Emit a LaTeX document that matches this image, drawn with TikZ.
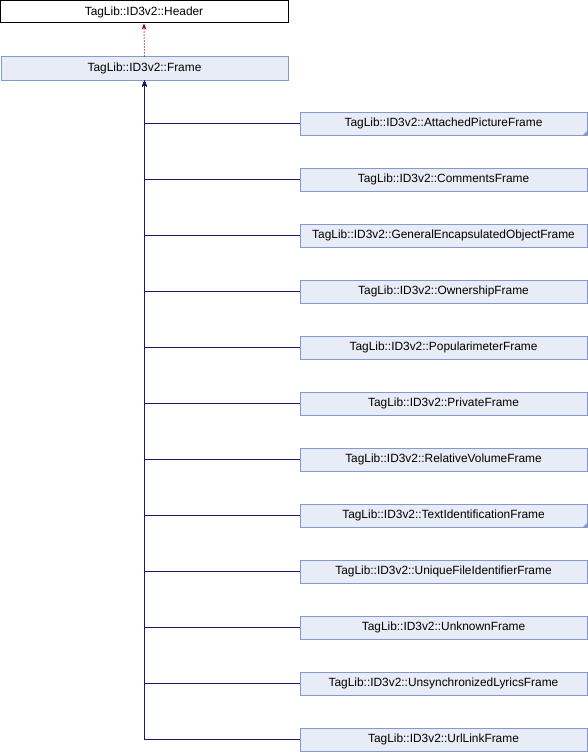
\documentclass[tikz,border=0pt]{standalone}
\usepackage{fontspec}
\setmainfont{Liberation Sans}
\usepackage{xcolor}
\usetikzlibrary{positioning, arrows.meta}

\definecolor{boxfill}{HTML}{E8ECF6}
\definecolor{boxline}{HTML}{8499CC}
\definecolor{inhline}{HTML}{191970}
\definecolor{deprline}{HTML}{8B0000}

\tikzset{
    cls/.style={draw=boxline, fill=boxfill, line width=1pt, minimum width=287, minimum height=23, inner sep=0pt, font=\fontsize{11.9}{14}\selectfont},
    top/.style={draw=black, fill=white, line width=1pt, minimum width=288, minimum height=22, inner sep=0pt, font=\fontsize{11.9}{14}\selectfont},
    inh/.style={draw=inhline, line width=1pt, -{Stealth[length=6pt, width=4.5pt]}},
    usage/.style={draw=deprline, line width=1pt, dotted, -{Stealth[length=6pt, width=4.5pt]}},
    more/.style={fill=boxline}
}

\begin{document}
\begin{tikzpicture}[x=1pt, y=-1pt]
    \useasboundingbox (0,0) rectangle (588,752);
    \node[top] (header) at (144,12) {TagLib::ID3v2::Header};
    \node[cls] (frame) at (144.5,68.5) {TagLib::ID3v2::Frame};
    \draw[usage] (frame.north) -- (header.south);
    % derived frames
    \foreach \name/\txt [count=\i from 0] in {
        apic/AttachedPictureFrame, comm/CommentsFrame,
        geob/GeneralEncapsulatedObjectFrame, owne/OwnershipFrame,
        popm/PopularimeterFrame, priv/PrivateFrame,
        rva/RelativeVolumeFrame, text/TextIdentificationFrame,
        ufid/UniqueFileIdentifierFrame, unkn/UnknownFrame,
        uslt/UnsynchronizedLyricsFrame, url/UrlLinkFrame} {
        \node[cls] (\name) at (443.5,{123.5+56*\i}) {TagLib::ID3v2::\txt};
        \draw[inh] (\name.west) -| (frame.south);
    }
    % classes with more children
    \foreach \name in {apic, text} {
        \fill[more] (\name.south east) -- ++(0,-5) -- ++(-5,5) -- cycle;
    }
\end{tikzpicture}
\end{document}
